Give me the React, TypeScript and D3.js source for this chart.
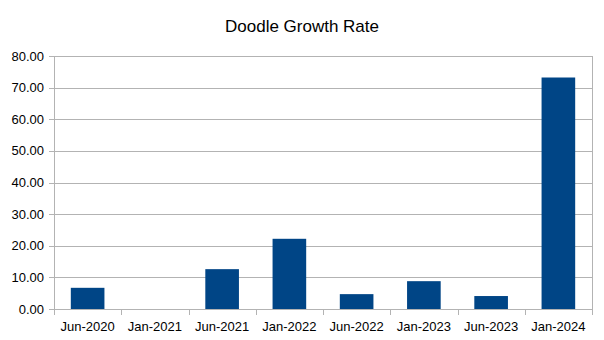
import React from "react";
import * as d3 from "d3";

const categories = ["Jun-2020", "Jan-2021", "Jun-2021", "Jan-2022", "Jun-2022", "Jan-2023", "Jun-2023", "Jan-2024"];
const values = [6.7, 0, 12.6, 22.2, 4.7, 8.8, 4.1, 73.2];
const yTicks = [0, 10, 20, 30, 40, 50, 60, 70, 80];
const title = "Doodle Growth Rate";

export default function App() {
  const W = 604, H = 340;
  const left = 54, right = 592, top = 56, bottom = 309;
  const x = d3.scaleBand<string>().domain(categories).range([left, right]).paddingInner(0).paddingOuter(0);
  const y = d3.scaleLinear().domain([0, 80]).range([bottom, top]);
  const bw = x.bandwidth() * 0.5;
  const font = "'Liberation Sans', Arial, sans-serif";
  const boundaries = categories.map((c) => x(c)!).concat([right]);
  return (
    <svg width={W} height={H} style={{ position: "absolute", left: 0, top: 0, background: "#fff" }}>
      <rect width={W} height={H} fill="#fff" />
      <text x={302} y={32} textAnchor="middle" fontFamily={font} fontSize={17} fill="#000">{title}</text>
      {yTicks.map((t) => (
        <g key={t}>
          <line x1={left - 5} x2={right} y1={Math.round(y(t)) + 0.5} y2={Math.round(y(t)) + 0.5} stroke="#b3b3b3" />
          <text x={44} y={y(t) + 4.5} textAnchor="end" fontFamily={font} fontSize={13} fill="#000">{t.toFixed(2)}</text>
        </g>
      ))}
      <line x1={left + 0.5} x2={left + 0.5} y1={top} y2={bottom + 6} stroke="#b3b3b3" />
      <line x1={right + 0.5} x2={right + 0.5} y1={top} y2={bottom} stroke="#b3b3b3" />
      {boundaries.map((b, i) => (
        <line key={i} x1={Math.round(b) + 0.5} x2={Math.round(b) + 0.5} y1={bottom} y2={bottom + 6} stroke="#b3b3b3" />
      ))}
      {categories.map((c, i) => (
        <rect key={c} x={x(c)! + (x.bandwidth() - bw) / 2} y={y(values[i])} width={bw} height={bottom - y(values[i])} fill="#004586" />
      ))}
      {categories.map((c) => (
        <text key={c} x={x(c)! + x.bandwidth() / 2} y={331} textAnchor="middle" fontFamily={font} fontSize={13} fill="#000">{c}</text>
      ))}
    </svg>
  );
}
